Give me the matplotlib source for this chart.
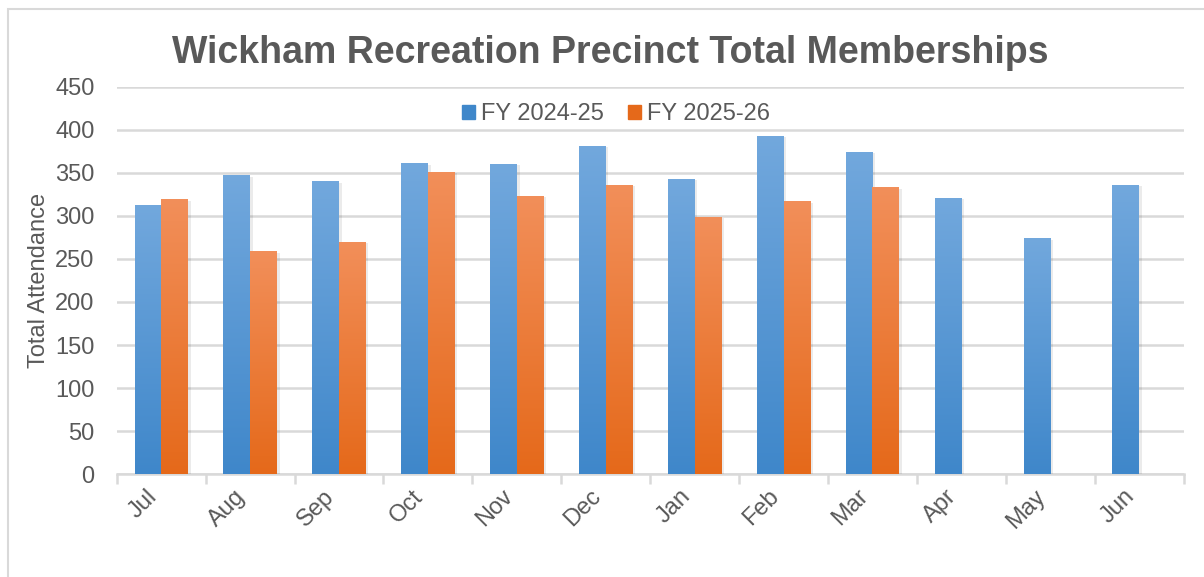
import numpy as np
import matplotlib
matplotlib.use("Agg")
import matplotlib.pyplot as plt
from matplotlib.colors import LinearSegmentedColormap
from matplotlib.patches import Rectangle
import matplotlib.patheffects as pe

plt.rcParams['font.family'] = ['Liberation Sans', 'DejaVu Sans']

months = ["Jul", "Aug", "Sep", "Oct", "Nov", "Dec", "Jan", "Feb", "Mar", "Apr", "May", "Jun"]
fy2425 = [313, 347, 340, 361, 360, 381, 343, 393, 374, 321, 274, 336]
fy2526 = [319, 259, 270, 351, 323, 336, 299, 317, 333]
series_names = ["FY 2024-25", "FY 2025-26"]

text_col = "#595959"
grid_col = "#D9D9D9"
# (top colour, bottom colour) for the gradient fills
blue = ("#72A8DD", "#3F87CA")
orange = ("#F28F5A", "#E5691A")

fig = plt.figure(figsize=(12.04, 5.77), dpi=100)
ax = fig.add_axes([0.097, 0.178, 0.886, 0.672])

x = np.arange(len(months))
w = 0.3


def gradient_bars(bars, cols):
    cmap = LinearSegmentedColormap.from_list("g", [cols[1], cols[0]])
    grad = np.linspace(0, 1, 256).reshape(-1, 1)
    for b in bars:
        bx, by = b.get_x(), b.get_y()
        bw, bh = b.get_width(), b.get_height()
        im = ax.imshow(grad, cmap=cmap, origin="lower", aspect="auto",
                       extent=(bx, bx + bw, by, by + bh), zorder=3)
        im.set_clip_path(b)


shadow = [pe.SimplePatchShadow(offset=(2, -1), shadow_rgbFace="#000000", alpha=0.08), pe.Normal()]

b1 = ax.bar(x - w / 2, fy2425, width=w, color=blue[1], zorder=3,
            label=series_names[0], path_effects=shadow)
b2 = ax.bar(np.arange(len(fy2526)) + w / 2, fy2526, width=w, color=orange[1], zorder=3,
            label=series_names[1], path_effects=shadow)
gradient_bars(b1, blue)
gradient_bars(b2, orange)

ax.set_xlim(-0.5, len(months) - 0.5)
ax.set_ylim(0, 450)
ax.set_yticks(np.arange(0, 451, 50))
ax.yaxis.grid(True, color=grid_col, linewidth=1.8, zorder=0)
ax.set_axisbelow(True)

ax.set_xticks(np.arange(-0.5, len(months), 1), minor=False)
ax.set_xticklabels([])
ax.set_xticks(x, minor=True)
ax.set_xticklabels(months, minor=True, rotation=45, ha="right", fontsize=17, color=text_col)
ax.tick_params(axis="x", which="major", length=7, color=grid_col, width=1.8)
ax.tick_params(axis="x", which="minor", length=0, pad=8)
ax.tick_params(axis="y", length=0, labelsize=17, labelcolor=text_col, pad=16)

for s in ["top", "right", "left"]:
    ax.spines[s].set_visible(False)
ax.spines["bottom"].set_color(grid_col)
ax.spines["bottom"].set_linewidth(1.8)

ax.set_ylabel("Total Attendance", fontsize=17, color=text_col, labelpad=4)

leg = ax.legend(loc="center", bbox_to_anchor=(0.468, 0.928), ncol=2, frameon=False,
                fontsize=17, handlelength=0.55, handleheight=0.55, handletextpad=0.25,
                columnspacing=1.05, labelcolor=text_col)
for h, cols in zip(leg.legend_handles, [blue, orange]):
    h.set_path_effects([])
    h.set_color(cols[1])

fig.text(0.507, 0.908, "Wickham Recreation Precinct Total Memberships", ha="center", va="center",
         fontsize=27, fontweight="bold", color=text_col)

fig.patches.append(Rectangle((8 / 1204, -0.1), 1.2, 1.1 - 9 / 577 + 0.0, transform=fig.transFigure,
                             fill=False, edgecolor=grid_col, linewidth=1.5))

fig.savefig("out.png", dpi=100)
